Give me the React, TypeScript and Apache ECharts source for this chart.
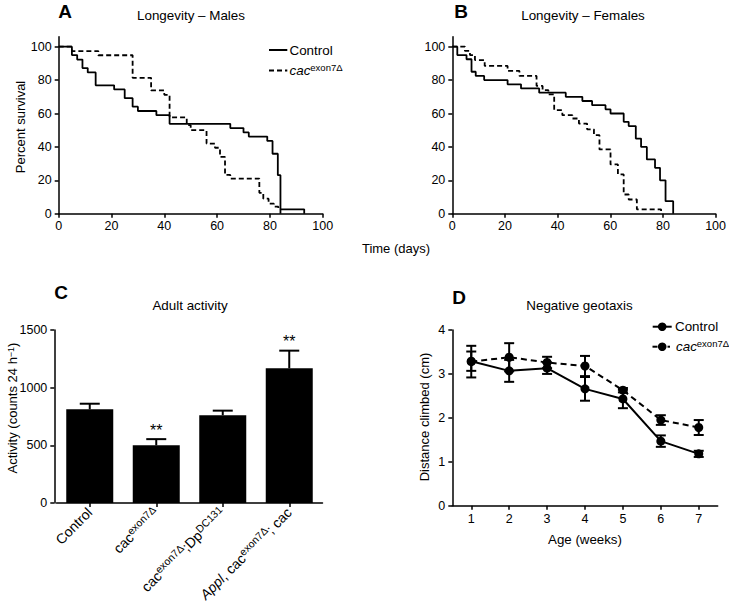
import React, { useEffect, useRef } from 'react';
import * as echarts from 'echarts';

// ---------- DATA ----------
// Panel A: Longevity – Males  [day, percent survival]
const maleControl: number[][] = [
  [0, 100], [5, 95], [7, 92.3], [9, 87.2], [11, 84.6], [14, 76.9], [21, 74.4], [25, 69.2],
  [28, 64.1], [30, 61.5], [37, 59], [42, 53.8], [65, 51.3], [70, 48.7], [72, 46.2],
  [79, 43.6], [81, 35.9], [83, 23.1], [84, 2.6], [93, 0],
];
const maleCac: number[][] = [
  [0, 100], [5, 97.4], [15, 94.9], [28, 81.4], [35, 73.8], [40, 71.2], [42, 57.7],
  [48.5, 53], [50, 50], [56, 42], [59.2, 39.5], [61.1, 34], [63, 23.2], [65, 21],
  [76, 12.5], [77.5, 9], [79.5, 6], [81.5, 4.2], [83.2, 2.6], [84, 0],
];
// Panel B: Longevity – Females
const femaleControl: number[][] = [
  [0, 100], [1.9, 95], [5.4, 92.5], [7.3, 85], [8.9, 82.5], [12.1, 80], [21, 77.5],
  [26.1, 75], [33, 72.5], [43.1, 70], [49.4, 67.5], [53.1, 65], [58.2, 62.5], [60.1, 60],
  [65.1, 55], [67, 52.5], [69.7, 45], [71.7, 40], [73.9, 32.5], [77, 27.5], [78.9, 20],
  [81, 7.5], [83.9, 0],
];
const femaleCac: number[][] = [
  [0, 100], [4.8, 97.5], [6.7, 95], [8.6, 92], [12.3, 88.5], [21, 85.5], [25.5, 82.5],
  [32, 76.5], [34.3, 74], [36.5, 71.5], [38.7, 62], [41.8, 59], [45.6, 57], [48.1, 54],
  [51.2, 50.5], [53.8, 47], [55.9, 38.5], [60.1, 29.5], [62.9, 23.5], [65.1, 11.5],
  [67, 8.5], [70.1, 2.6], [79.3, 0],
];
const survivalTicks = [0, 20, 40, 60, 80, 100];

// Panel C: Adult activity
const activityCategories = ['Control', 'cacexon7Δ', 'cacexon7Δ;DpDC131', 'Appl, cacexon7Δ; cac'];
const activityLabels = ['Control', 'cac{s|exon7Δ}', 'cac{s|exon7Δ};Dp{s|DC131}', '{i|Appl}, cac{s|exon7Δ}; cac'];
const activityMeans = [812, 500, 761, 1168];
const activityErrors = [49, 54, 40, 153];
const activitySig = ['', '**', '', '**'];

// Panel D: Negative geotaxis
const weeks = ['1', '2', '3', '4', '5', '6', '7'];
const geoControl = [3.29, 3.07, 3.13, 2.66, 2.43, 1.47, 1.18];
const geoControlErr = [0.22, 0.25, 0.13, 0.27, 0.21, 0.13, 0.07];
const geoCac = [3.28, 3.38, 3.26, 3.18, 2.63, 1.95, 1.78];
const geoCacErr = [0.36, 0.32, 0.13, 0.23, 0.05, 0.11, 0.17];

// ---------- STYLE ----------
const FF = '"Liberation Sans", Arial, Helvetica, sans-serif';
const BLACK = '#000';
const axisLine = { show: true, onZero: false, lineStyle: { color: BLACK, width: 1.5 } };
const axisTick = { show: true, length: 4, lineStyle: { color: BLACK, width: 1.5 } };
const tickFont = { fontSize: 12.5, color: BLACK, fontFamily: FF };
const supRich = {
  s: { fontSize: 10.5, fontFamily: FF, color: BLACK, verticalAlign: 'top', lineHeight: 11 },
  i: { fontSize: 14, fontFamily: FF, color: BLACK, fontStyle: 'italic', lineHeight: 17 },
};

function text(x: number, y: number, t: string, opts: any = {}) {
  return {
    type: 'text',
    x,
    y,
    rotation: opts.rotation || 0,
    style: {
      text: t,
      fill: BLACK,
      fontFamily: FF,
      fontSize: opts.fontSize || 13,
      fontWeight: opts.fontWeight || 'normal',
      fontStyle: opts.fontStyle || 'normal',
      align: opts.align || 'center',
      verticalAlign: opts.verticalAlign || 'middle',
      rich: opts.rich,
    },
  };
}

function legendLine(x1: number, x2: number, y: number, dashed: boolean) {
  return {
    type: 'line',
    shape: { x1, y1: y, x2, y2: y },
    style: { stroke: BLACK, lineWidth: 2, lineDash: dashed ? [5, 3] : null },
  };
}

export default function App() {
  const ref = useRef<HTMLDivElement>(null);

  useEffect(() => {
    if (!ref.current) return;
    const chart = echarts.init(ref.current, undefined, { renderer: 'svg' });

    const survivalX = (gi: number) => ({
      type: 'value', gridIndex: gi, min: 0, max: 100, interval: 20,
      axisLine, axisTick, splitLine: { show: false },
      axisLabel: { ...tickFont, margin: 6 },
    });
    const survivalY = (gi: number) => ({
      type: 'value', gridIndex: gi, min: 0, max: 106,
      axisLine, splitLine: { show: false },
      axisTick: { ...axisTick, customValues: survivalTicks },
      axisLabel: { ...tickFont, margin: 7, customValues: survivalTicks },
    });
    const stepLine = (xi: number, data: number[][], dashed: boolean) => ({
      type: 'line', xAxisIndex: xi, yAxisIndex: xi, step: 'end', data,
      showSymbol: false, symbol: 'none',
      lineStyle: { color: BLACK, width: 1.8, type: dashed ? [5, 3] : 'solid' },
      z: dashed ? 3 : 4,
    });

    const geoErr = (means: number[], errs: number[]) => ({
      type: 'custom', xAxisIndex: 3, yAxisIndex: 3,
      data: means.map((m, i) => [i, m, errs[i]]),
      encode: { x: 0, y: 1 },
      z: 5,
      renderItem: (params: any, api: any) => {
        const i = api.value(0); const m = api.value(1); const e = api.value(2);
        const top = api.coord([i, m + e]);
        const bot = api.coord([i, m - e]);
        const w = 5;
        const st = { stroke: BLACK, lineWidth: 2 };
        return {
          type: 'group',
          children: [
            { type: 'line', shape: { x1: top[0], y1: top[1], x2: bot[0], y2: bot[1] }, style: st },
            { type: 'line', shape: { x1: top[0] - w, y1: top[1], x2: top[0] + w, y2: top[1] }, style: st },
            { type: 'line', shape: { x1: bot[0] - w, y1: bot[1], x2: bot[0] + w, y2: bot[1] }, style: st },
          ],
        };
      },
    });

    const option: any = {
      animation: false,
      backgroundColor: '#fff',
      textStyle: { fontFamily: FF },
      grid: [
        { left: 58.7, top: 36.7, width: 264, height: 177 },
        { left: 452.3, top: 36.7, width: 265.4, height: 177 },
        { left: 56.5, top: 330, width: 266, height: 176 },
        { left: 452.3, top: 330, width: 265.4, height: 175.7 },
      ],
      xAxis: [
        survivalX(0),
        survivalX(1),
        {
          type: 'category', gridIndex: 2, data: activityCategories,
          axisLine, axisTick: { ...axisTick, alignWithLabel: true },
          axisLabel: {
            fontSize: 14, color: BLACK, fontFamily: FF, rotate: 45, margin: 7, interval: 0,
            lineHeight: 17, rich: supRich,
            formatter: (_v: string, idx: number) => activityLabels[idx],
          },
        },
        {
          type: 'category', gridIndex: 3, data: weeks, boundaryGap: true,
          axisLine, axisTick: { ...axisTick, alignWithLabel: true },
          axisLabel: { ...tickFont, margin: 7 },
        },
      ],
      yAxis: [
        survivalY(0),
        survivalY(1),
        {
          type: 'value', gridIndex: 2, min: 0, max: 1500, interval: 500, offset: 2.2,
          axisLine, axisTick, splitLine: { show: false },
          axisLabel: { ...tickFont, margin: 7, formatter: (v: number) => String(v) },
        },
        {
          type: 'value', gridIndex: 3, min: 0, max: 4, interval: 1,
          axisLine, axisTick, splitLine: { show: false },
          axisLabel: { ...tickFont, margin: 7 },
        },
      ],
      series: [
        stepLine(0, maleControl, false),
        stepLine(0, maleCac, true),
        stepLine(1, femaleControl, false),
        stepLine(1, femaleCac, true),
        {
          type: 'bar', xAxisIndex: 2, yAxisIndex: 2, data: activityMeans,
          barWidth: 47, itemStyle: { color: BLACK },
        },
        {
          type: 'custom', xAxisIndex: 2, yAxisIndex: 2,
          data: activityMeans.map((m, i) => [i, m, activityErrors[i]]),
          encode: { x: 0, y: 1 },
          z: 5,
          renderItem: (params: any, api: any) => {
            const i = api.value(0); const m = api.value(1); const e = api.value(2);
            const base = api.coord([i, m]);
            const top = api.coord([i, m + e]);
            const w = 10;
            const st = { stroke: BLACK, lineWidth: 2 };
            const children: any[] = [
              { type: 'line', shape: { x1: base[0], y1: base[1], x2: top[0], y2: top[1] }, style: st },
              { type: 'line', shape: { x1: top[0] - w, y1: top[1], x2: top[0] + w, y2: top[1] }, style: st },
            ];
            const sig = activitySig[params.dataIndex];
            if (sig) {
              children.push({
                type: 'text',
                x: top[0], y: top[1] - 1,
                style: { text: sig, fill: BLACK, fontFamily: FF, fontSize: 16, align: 'center', verticalAlign: 'bottom' },
              });
            }
            return { type: 'group', children };
          },
        },
        geoErr(geoControl, geoControlErr),
        geoErr(geoCac, geoCacErr),
        {
          type: 'line', xAxisIndex: 3, yAxisIndex: 3, data: geoControl,
          symbol: 'circle', symbolSize: 9, itemStyle: { color: BLACK },
          lineStyle: { color: BLACK, width: 2 }, z: 6,
        },
        {
          type: 'line', xAxisIndex: 3, yAxisIndex: 3, data: geoCac,
          symbol: 'circle', symbolSize: 9, itemStyle: { color: BLACK },
          lineStyle: { color: BLACK, width: 2, type: [6, 4] }, z: 6,
        },
      ],
      graphic: [
        // panel letters
        text(65, 11, 'A', { fontSize: 19, fontWeight: 'bold' }),
        text(461, 11, 'B', { fontSize: 19, fontWeight: 'bold' }),
        text(61, 292, 'C', { fontSize: 19, fontWeight: 'bold' }),
        text(459, 297, 'D', { fontSize: 19, fontWeight: 'bold' }),
        // titles
        text(191, 15, 'Longevity – Males', { fontSize: 13.4 }),
        text(583, 15, 'Longevity – Females', { fontSize: 13.4 }),
        text(190, 305, 'Adult activity', { fontSize: 13.4 }),
        text(579.5, 305, 'Negative geotaxis', { fontSize: 13.4 }),
        // axis names
        text(20.5, 127, 'Percent survival', { rotation: Math.PI / 2, fontSize: 13 }),
        text(396, 248, 'Time (days)', { fontSize: 13 }),
        text(12.5, 408, 'Activity (counts 24 h{s|−1})', {
          rotation: Math.PI / 2, fontSize: 13,
          rich: { s: { fontSize: 9, fontFamily: FF, color: BLACK, verticalAlign: 'top', lineHeight: 10 } },
        }),
        text(424, 417, 'Distance climbed (cm)', { rotation: Math.PI / 2, fontSize: 13 }),
        text(585, 539, 'Age (weeks)', { fontSize: 13.3 }),
        // legend A
        legendLine(269, 287.3, 50, false),
        text(289.5, 50, 'Control', { align: 'left', fontSize: 13.4 }),
        legendLine(269, 287.3, 70.5, true),
        text(289.5, 70.5, '{i|cac}{s|exon7Δ}', {
          align: 'left', fontSize: 13.4,
          rich: {
            i: { fontSize: 13.4, fontFamily: FF, color: BLACK, fontStyle: 'italic', lineHeight: 16 },
            s: { fontSize: 9.5, fontFamily: FF, color: BLACK, verticalAlign: 'top', lineHeight: 10 },
          },
        }),
        // legend D
        legendLine(652.7, 671.7, 326.7, false),
        { type: 'circle', shape: { cx: 662.2, cy: 326.7, r: 4.3 }, style: { fill: BLACK } },
        text(675, 326.7, 'Control', { align: 'left', fontSize: 13.4 }),
        { type: 'line', shape: { x1: 652.5, y1: 346.7, x2: 657.5, y2: 346.7 }, style: { stroke: BLACK, lineWidth: 2 } },
        { type: 'circle', shape: { cx: 662.2, cy: 346.7, r: 4.3 }, style: { fill: BLACK } },
        { type: 'line', shape: { x1: 667.5, y1: 346.7, x2: 670, y2: 346.7 }, style: { stroke: BLACK, lineWidth: 2 } },
        text(676, 346.7, '{i|cac}{s|exon7Δ}', {
          align: 'left', fontSize: 13.4,
          rich: {
            i: { fontSize: 13.4, fontFamily: FF, color: BLACK, fontStyle: 'italic', lineHeight: 16 },
            s: { fontSize: 9.5, fontFamily: FF, color: BLACK, verticalAlign: 'top', lineHeight: 10 },
          },
        }),
      ],
    };

    chart.setOption(option);
    return () => chart.dispose();
  }, []);

  return (
    <div
      ref={ref}
      style={{ position: 'absolute', left: 0, top: 0, width: 729, height: 605, background: '#fff' }}
    />
  );
}
